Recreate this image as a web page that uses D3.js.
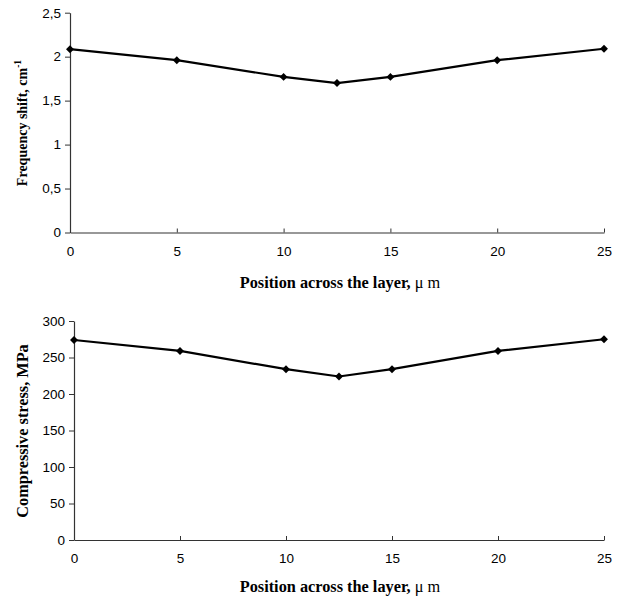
<!DOCTYPE html>
<html><head><meta charset="utf-8">
<script src="https://cdn.jsdelivr.net/npm/d3@7"></script>
<style>body{margin:0;background:#fff}</style>
</head><body>
<script>
const positions = [0, 5, 10, 12.5, 15, 20, 25];
const freqShift = [2.085, 1.96, 1.77, 1.70, 1.77, 1.96, 2.09];
const stress = [274, 259, 234, 224, 234, 259, 275];
const xTicks = [0, 5, 10, 15, 20, 25];
const freqTicks = [0, 0.5, 1, 1.5, 2, 2.5];
const stressTicks = [0, 50, 100, 150, 200, 250, 300];

const svg = d3.select("body").append("svg").attr("width", 620).attr("height", 601);

function panel(o) {
  const x = d3.scaleLinear().domain([0, 25]).range([o.x0, o.x1]);
  const y = d3.scaleLinear().domain(o.ydom).range([o.y0, o.y1]);
  const g = svg.append("g");
  const xa = g.append("g").attr("transform", `translate(0,${o.y0})`)
    .call(d3.axisBottom(x).tickValues(xTicks).tickSizeInner(-4).tickSizeOuter(0).tickPadding(o.xpad).tickFormat(d3.format("d")));
  const ya = g.append("g").attr("transform", `translate(${o.x0},0)`)
    .call(d3.axisLeft(y).tickValues(o.yticks).tickSize(5).tickSizeOuter(0).tickPadding(4).tickFormat(o.fmt));
  [xa, ya].forEach(a => {
    a.select(".domain").attr("stroke", "#333").attr("stroke-width", 1.2);
    a.selectAll(".tick line").attr("stroke", "#333").attr("stroke-width", 1);
    a.selectAll(".tick text").attr("font-family", "Liberation Sans, Arial, sans-serif").attr("font-size", 13.5).attr("fill", "#000");
  });
  const pts = positions.map((p, i) => [p, o.vals[i]]);
  g.append("path").datum(pts)
    .attr("d", d3.line().x(d => x(d[0])).y(d => y(d[1])))
    .attr("fill", "none").attr("stroke", "#000").attr("stroke-width", 2.2);
  g.selectAll(".pt").data(pts).enter().append("path")
    .attr("d", d3.symbol().type(d3.symbolDiamond2).size(40))
    .attr("transform", d => `translate(${x(d[0])},${y(d[1])})`)
    .attr("fill", "#000");
  g.append("text").attr("x", 340).attr("y", o.y0 + o.xtDy)
    .attr("text-anchor", "middle").attr("font-family", "Liberation Serif, Times New Roman, serif")
    .attr("font-weight", "bold").attr("font-size", 16.3)
    .text("Position across the layer, ").append("tspan").attr("font-weight", "normal").text("μ m");
  const yt = g.append("text").attr("transform", `translate(${o.ytx},${o.ytc}) rotate(-90)`)
    .attr("text-anchor", "middle").attr("font-family", "Liberation Serif, Times New Roman, serif")
    .attr("font-weight", "bold").attr("font-size", o.ytsize);
  o.ytitle(yt);
}

panel({x0: 70, x1: 604, y0: 232.5, y1: 12.7, ydom: [0, 2.5], yticks: freqTicks, xpad: 14, xtDy: 55,
  fmt: d => d3.format("")(d).replace(".", ","), vals: freqShift, ytx: 27, ytc: 123, ytsize: 14,
  ytitle: t => { t.text("Frequency shift, cm"); t.append("tspan").attr("dy", -6).attr("font-size", 9.5).text("-1"); }});
panel({x0: 74, x1: 604, y0: 540, y1: 321, ydom: [0, 300], yticks: stressTicks, xpad: 13, xtDy: 52,
  fmt: d3.format("d"), vals: stress, ytx: 28, ytc: 431, ytsize: 16.3,
  ytitle: t => t.text("Compressive stress, MPa")});
</script>
</body></html>
